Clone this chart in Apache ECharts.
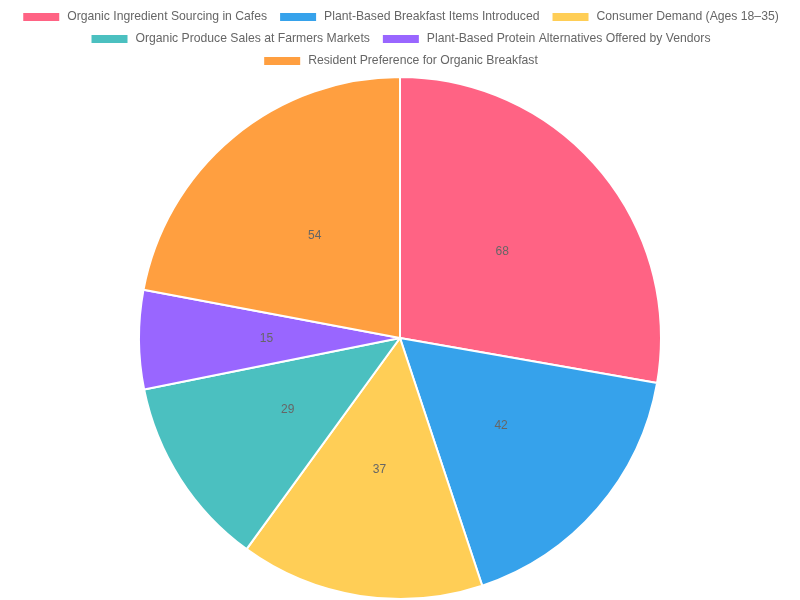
<!DOCTYPE html>
<html>
<head>
<meta charset="utf-8">
<script src="https://cdn.jsdelivr.net/npm/echarts@6/dist/echarts.min.js"></script>
<style>
  html, body { margin: 0; padding: 0; background: #fff; }
  #main { width: 800px; height: 600px; }
</style>
</head>
<body>
<div id="main"></div>
<script>
const categories = [
  "Organic Ingredient Sourcing in Cafes",
  "Plant-Based Breakfast Items Introduced",
  "Consumer Demand (Ages 18–35)",
  "Organic Produce Sales at Farmers Markets",
  "Plant-Based Protein Alternatives Offered by Vendors",
  "Resident Preference for Organic Breakfast"
];
const values = [68, 42, 37, 29, 15, 54];
const colors = ["#FF6384", "#36A2EB", "#FFCE56", "#4BC0C0", "#9966FF", "#FF9F40"];

// legend rows as in the original layout
const legendRows = [categories.slice(0, 3), categories.slice(3, 5), categories.slice(5)];

const chart = echarts.init(document.getElementById("main"));

const legendBase = {
  left: "center",
  icon: "rect",
  itemWidth: 38,
  itemHeight: 10,
  itemGap: 11,
  textStyle: {
    color: "#666",
    fontSize: 12.2,
    padding: [0, 0, 0, 2],
    fontFamily: "Liberation Sans, Arial, sans-serif"
  }
};

chart.setOption({
  color: colors,
  animation: false,
  legend: legendRows.map((row, i) => Object.assign({}, legendBase, { top: 6 + i * 22, data: row })),
  series: [
    {
      type: "pie",
      center: [400, 338],
      radius: 261,
      startAngle: 90,
      clockwise: true,
      itemStyle: { borderColor: "#fff", borderWidth: 2 },
      label: {
        position: "inside",
        formatter: "{c}",
        color: "#666",
        fontSize: 12,
        fontFamily: "Liberation Sans, Arial, sans-serif"
      },
      labelLine: { show: false },
      emphasis: { scale: false },
      data: categories.map((name, i) => ({ name: name, value: values[i] }))
    }
  ]
});
</script>
</body>
</html>
